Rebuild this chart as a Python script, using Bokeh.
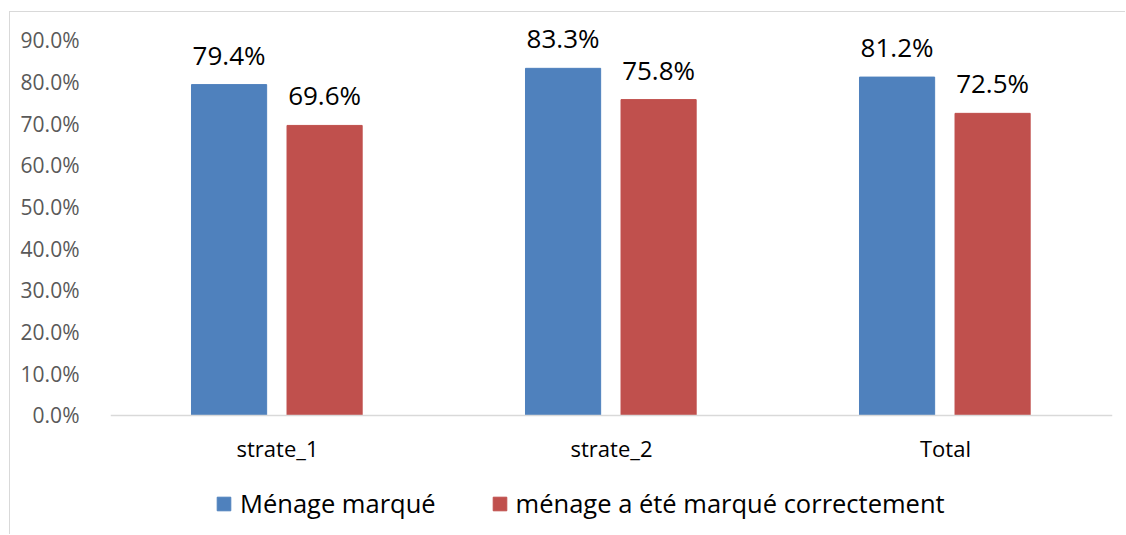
from bokeh.plotting import figure
from bokeh.models import ColumnDataSource, Legend, LegendItem, FactorRange, NumeralTickFormatter, FixedTicker, Range1d
from bokeh.transform import dodge
from bokeh.embed import file_html
from bokeh.resources import INLINE
from bokeh.core.properties import value

categories = ["strate_1", "strate_2", "Total"]
menage_marque = [0.794, 0.833, 0.812]
marque_correct = [0.696, 0.758, 0.725]
series_names = ["Ménage marqué", "ménage a été marqué correctement"]
y_ticks = [0.0, 0.1, 0.2, 0.3, 0.4, 0.5, 0.6, 0.7, 0.8, 0.9]

src = ColumnDataSource(dict(
    cat=categories,
    a=menage_marque,
    b=marque_correct,
    a_lab=[f"{v*100:.1f}%" for v in menage_marque],
    b_lab=[f"{v*100:.1f}%" for v in marque_correct],
))

p = figure(x_range=FactorRange(*categories, range_padding=0), y_range=Range1d(-0.288, 0.967),
           width=1116, height=523, output_backend="svg", toolbar_location=None,
           min_border_left=100, min_border_right=14, min_border_top=0, min_border_bottom=0)
p.styles = {"margin-left": "9px", "margin-top": "11px",
            "border-left": "1px solid #d9d9d9", "border-top": "1px solid #d9d9d9"}

blue = "#4f81bd"
red = "#c0504d"
r1 = p.vbar(x=dodge("cat", -0.145, range=p.x_range), top="a", width=0.225, source=src,
            fill_color=blue, line_color=blue)
r2 = p.vbar(x=dodge("cat", 0.141, range=p.x_range), top="b", width=0.225, source=src,
            fill_color=red, line_color=red)

for col, lab, off in [("a", "a_lab", -0.145), ("b", "b_lab", 0.141)]:
    p.text(x=dodge("cat", off, range=p.x_range), y=col, text=lab, source=src,
           text_align="center", text_baseline="bottom", y_offset=-12,
           text_font=value("Open Sans"), text_font_size="26px", text_color="#000000")

p.outline_line_color = None
p.xgrid.grid_line_color = None
p.ygrid.grid_line_color = None

p.yaxis.ticker = FixedTicker(ticks=y_ticks)
p.yaxis.formatter = NumeralTickFormatter(format="0.0%")
p.yaxis.axis_line_color = None
p.yaxis.major_tick_line_color = None
p.yaxis.minor_tick_line_color = None
p.yaxis.major_label_standoff = 25
p.yaxis.major_label_text_font = "Open Sans"
p.yaxis.major_label_text_font_size = "21px"
p.yaxis.major_label_text_color = "#595959"

p.xaxis.fixed_location = 0
p.xaxis.axis_line_color = "#d9d9d9"
p.xaxis.axis_line_width = 1.5
p.xaxis.major_tick_line_color = None
p.xaxis.minor_tick_line_color = None
p.xaxis.major_label_standoff = 12
p.xaxis.major_label_text_font = "Open Sans"
p.xaxis.major_label_text_font_size = "22px"
p.xaxis.major_label_text_color = "#000000"

legend = Legend(items=[LegendItem(label=series_names[0], renderers=[r1]),
                       LegendItem(label=series_names[1], renderers=[r2])],
                orientation="horizontal", location=(105, 15),
                label_text_font="Open Sans", label_text_font_size="25.5px",
                label_text_color="#000000", glyph_width=17, glyph_height=17,
                spacing=55, label_standoff=8, border_line_color=None,
                background_fill_alpha=0, margin=0, padding=0)
p.add_layout(legend, "center")

open("out.html", "w").write(file_html(p, INLINE))
